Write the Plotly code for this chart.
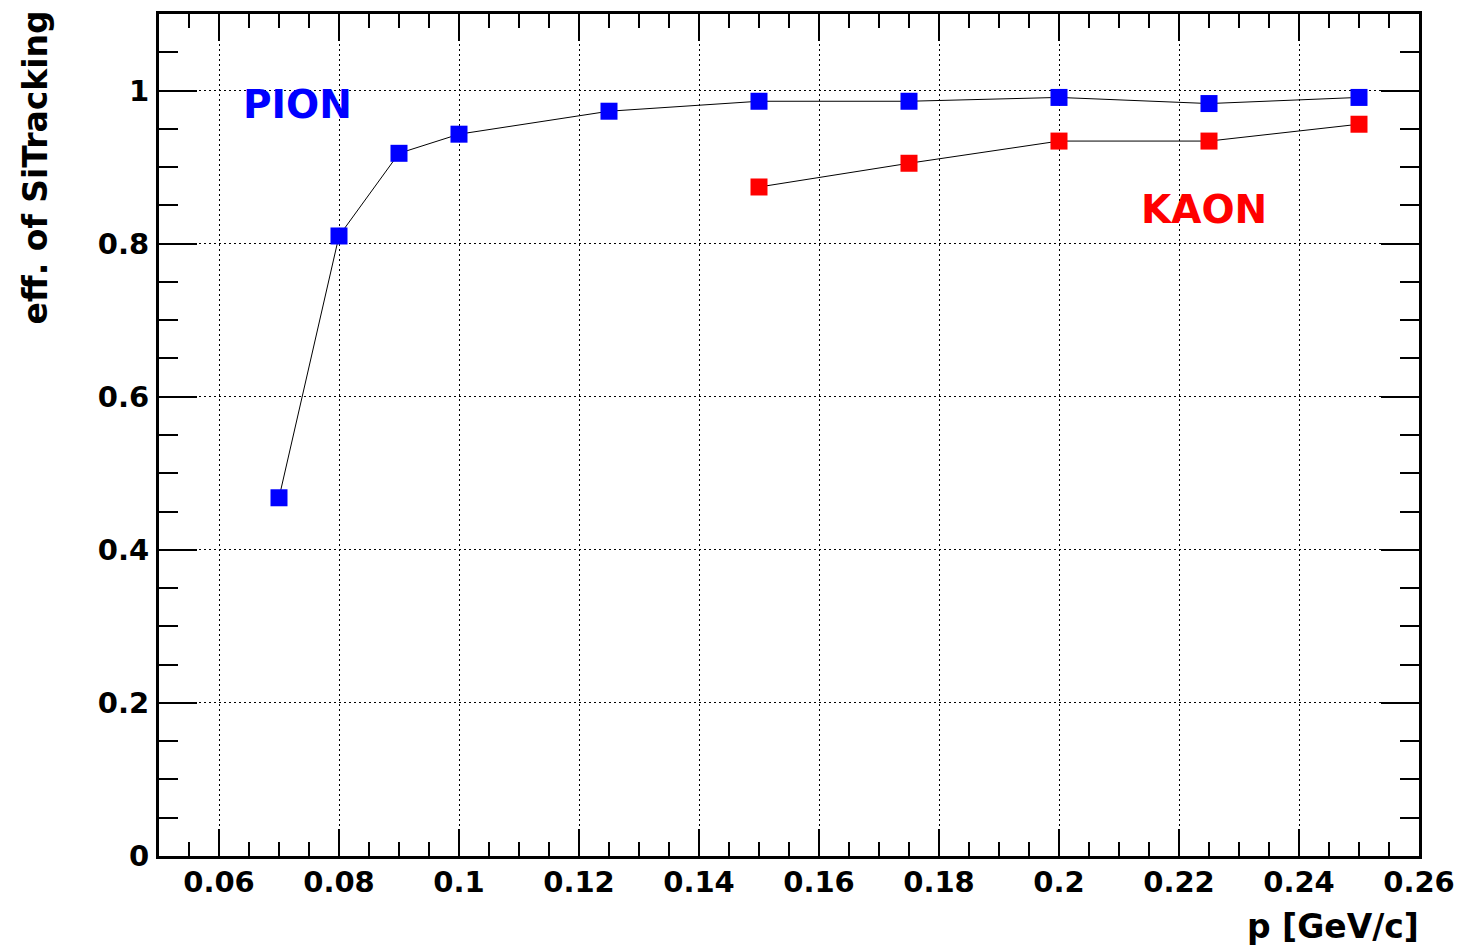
import plotly.graph_objects as go

pion_p = [0.07, 0.08, 0.09, 0.1, 0.125, 0.15, 0.175, 0.2, 0.225, 0.25]
pion_eff = [0.468, 0.810, 0.918, 0.943, 0.973, 0.986, 0.986, 0.991, 0.983, 0.991]
kaon_p = [0.15, 0.175, 0.2, 0.225, 0.25]
kaon_eff = [0.874, 0.905, 0.934, 0.934, 0.956]

x_ticks = [0.06, 0.08, 0.1, 0.12, 0.14, 0.16, 0.18, 0.2, 0.22, 0.24, 0.26]
x_ticklabels = ["0.06", "0.08", "0.1", "0.12", "0.14", "0.16", "0.18", "0.2", "0.22", "0.24", "0.26"]
y_ticks = [0, 0.2, 0.4, 0.6, 0.8, 1.0]
y_ticklabels = ["0", "0.2", "0.4", "0.6", "0.8", "1"]

FONT = "DejaVu Sans"

fig = go.Figure()
fig.add_trace(go.Scatter(
    x=pion_p, y=pion_eff, mode="lines+markers",
    line=dict(color="black", width=1),
    marker=dict(symbol="square", size=17, color="#0000ff"),
    showlegend=False,
))
fig.add_trace(go.Scatter(
    x=kaon_p, y=kaon_eff, mode="lines+markers",
    line=dict(color="black", width=1),
    marker=dict(symbol="square", size=17, color="#ff0000"),
    showlegend=False,
))

axis_common = dict(
    showline=True, linecolor="black", linewidth=3, mirror="allticks",
    ticks="inside", tickcolor="black", tickwidth=2,
    showgrid=True, gridcolor="black", griddash="2px,3px", gridwidth=1.3,
    zeroline=False,
    tickfont=dict(family=FONT, size=29, color="black", weight="bold"),
)

fig.update_xaxes(
    range=[0.05, 0.26], tickvals=x_ticks, ticktext=x_ticklabels,
    ticklen=27, ticklabelstandoff=-2,
    minor=dict(dtick=0.005, tick0=0.05, ticklen=14, tickcolor="black", tickwidth=2, ticks="inside", showgrid=False),
    **axis_common,
)
fig.update_yaxes(
    range=[0, 1.1], tickvals=y_ticks, ticktext=y_ticklabels,
    ticklen=38, ticklabelstandoff=1,
    minor=dict(dtick=0.05, tick0=0, ticklen=19, tickcolor="black", tickwidth=2, ticks="inside", showgrid=False),
    **axis_common,
)

L, R, T, B = 159, 43, 11, 92
W, H = 1466, 948
pw, ph = W - L - R, H - T - B

fig.add_annotation(x=0.0731, y=0.982, xref="x", yref="y", text="<b>PION</b>",
                   showarrow=False, font=dict(family=FONT, size=39, color="#0000ff"))
fig.add_annotation(x=0.2241, y=0.8445, xref="x", yref="y", text="<b>KAON</b>",
                   showarrow=False, font=dict(family=FONT, size=39, color="#ff0000"))

fig.add_annotation(x=(1425 - L) / pw, y=-(927 - (H - B)) / ph, xref="paper", yref="paper",
                   xanchor="right", yanchor="middle", text="<b>p [GeV/c]</b>",
                   showarrow=False, font=dict(family=FONT, size=33, color="black"))
fig.add_annotation(x=(35 - L) / pw, y=1.0 + (T - 5) / ph, xref="paper", yref="paper",
                   xanchor="center", yanchor="top", text="<b>eff. of SiTracking</b>", textangle=-90,
                   showarrow=False, font=dict(family=FONT, size=33, color="black"))

fig.update_layout(
    width=W, height=H,
    margin=dict(l=L, r=R, t=T, b=B),
    paper_bgcolor="white", plot_bgcolor="white",
)

fig.write_html("out.html")
